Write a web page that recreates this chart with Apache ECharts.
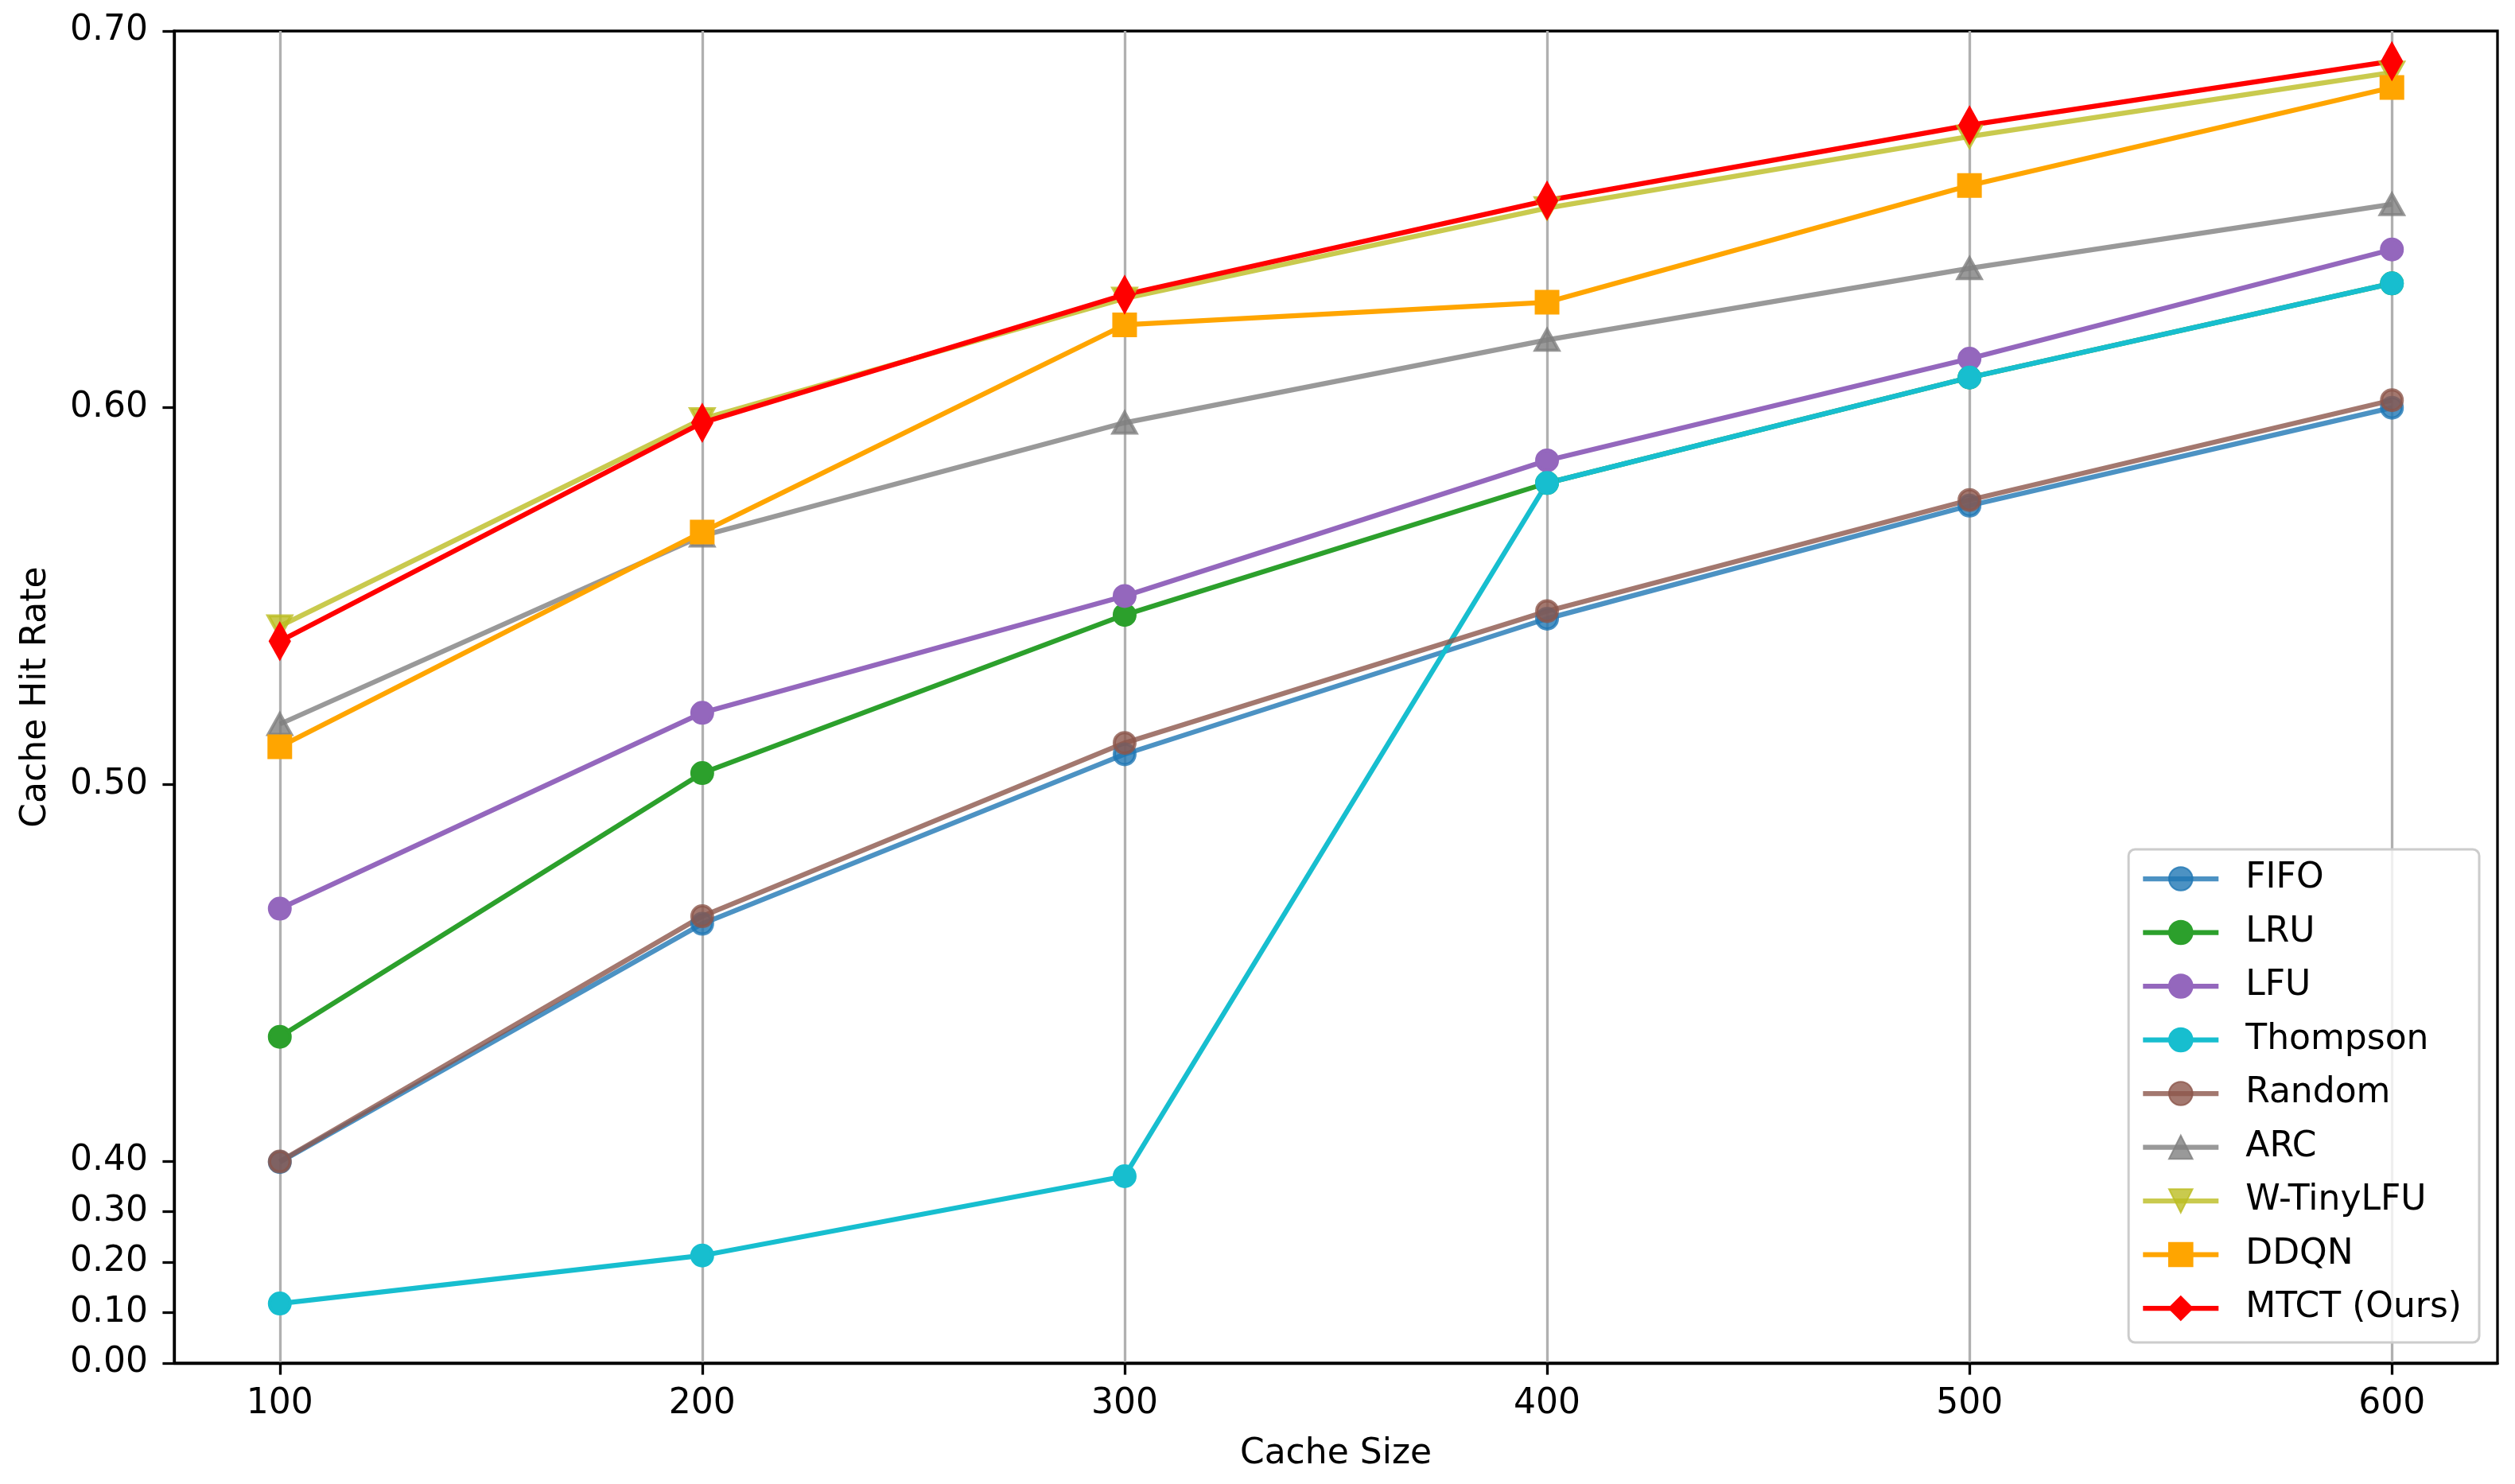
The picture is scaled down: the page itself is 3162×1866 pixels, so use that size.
<!DOCTYPE html>
<html>
<head>
<meta charset="utf-8">
<script src="https://cdn.jsdelivr.net/npm/echarts@6/dist/echarts.min.js"></script>
<style>
html,body{margin:0;padding:0;background:#fff;}
#c{width:3162px;height:1866px;}
</style>
</head>
<body>
<div id="c"></div>
<script>
const cacheSizes = [100, 200, 300, 400, 500, 600];
const xTicks = [100, 200, 300, 400, 500, 600];
const yTicks = [0.0, 0.1, 0.2, 0.3, 0.4, 0.5, 0.6, 0.7];

const fifo      = [0.398, 0.463, 0.508, 0.544, 0.574, 0.600];
const lru       = [0.433, 0.503, 0.545, 0.580, 0.608, 0.633];
const lfu       = [0.467, 0.519, 0.550, 0.586, 0.613, 0.642];
const thompson  = [0.118, 0.213, 0.370, 0.580, 0.608, 0.633];
const randomP   = [0.399, 0.465, 0.511, 0.546, 0.5755, 0.602];
const arc       = [0.516, 0.566, 0.596, 0.618, 0.637, 0.654];
const wtinylfu  = [0.542, 0.597, 0.629, 0.653, 0.672, 0.689];
const ddqn      = [0.510, 0.567, 0.622, 0.628, 0.659, 0.685];
const mtct      = [0.538, 0.596, 0.630, 0.655, 0.675, 0.692];

// broken (piecewise) y scale: below 0.40 the axis is compressed
const BREAK = 0.4;
const LOWER_RATIO = 0.1341;
function warp(v){ return v >= BREAK ? v : BREAK - (BREAK - v) * LOWER_RATIO; }
function unwarp(t){ return t >= BREAK - 1e-9 ? t : BREAK - (BREAK - t) / LOWER_RATIO; }

const FONT = 'DejaVu Sans';
const FS = 44;

function mk(name, vals, color, symbol, size, opacity, rotate){
  return {
    name: name,
    type: 'line',
    data: cacheSizes.map((x, i) => [x, warp(vals[i])]),
    symbol: symbol,
    symbolSize: size,
    symbolRotate: rotate || 0,
    showAllSymbol: true,
    lineStyle: { color: color, width: 6.25, opacity: opacity },
    itemStyle: { color: color, borderColor: color, borderWidth: 4, opacity: opacity },
    emphasis: { disabled: true },
    silent: true
  };
}

const chart = echarts.init(document.getElementById('c'), null, { renderer: 'canvas' });
chart.setOption({
  animation: false,
  backgroundColor: '#ffffff',
  textStyle: { fontFamily: FONT },
  grid: {
    left: 219, right: 22, top: 39, bottom: 152,
    show: true, borderColor: '#000', borderWidth: 3.3,
    outerBoundsMode: 'none'
  },
  xAxis: {
    type: 'value',
    min: 75, max: 625,
    name: 'Cache Size',
    nameLocation: 'middle',
    nameGap: 93,
    nameTextStyle: { fontFamily: FONT, fontSize: FS, color: '#000' },
    axisLine: { show: true, onZero: false, lineStyle: { color: '#000', width: 3.3 } },
    axisTick: { show: true, length: 14.6, lineStyle: { color: '#000', width: 3.3 }, customValues: xTicks },
    axisLabel: { fontFamily: FONT, fontSize: FS, color: '#000', margin: 30, customValues: xTicks,
      formatter: v => String(Math.round(v)) },
    splitLine: { show: true, lineStyle: { color: '#b0b0b0', width: 3.3 } }
  },
  yAxis: {
    type: 'value',
    min: warp(0), max: 0.7,
    name: 'Cache Hit Rate',
    nameLocation: 'middle',
    nameGap: 151,
    nameRotate: 90,
    nameTextStyle: { fontFamily: FONT, fontSize: FS, color: '#000' },
    axisLine: { show: true, onZero: false, lineStyle: { color: '#000', width: 3.3 } },
    axisTick: { show: true, length: 14.6, lineStyle: { color: '#000', width: 3.3 }, customValues: yTicks.map(warp) },
    axisLabel: { fontFamily: FONT, fontSize: FS, color: '#000', margin: 33, customValues: yTicks.map(warp),
      formatter: v => { const r = Math.round(unwarp(v) * 100) / 100; return (Math.abs(r) < 1e-9 ? 0 : r).toFixed(2); } },
    splitLine: { show: false }
  },
  legend: {
    orient: 'vertical',
    right: 45, bottom: 178,
    padding: [15, 22, 21, 15],
    itemGap: 23.5,
    itemWidth: 95,
    itemHeight: 37,
    backgroundColor: 'rgba(255,255,255,0.8)',
    borderColor: '#cccccc',
    borderWidth: 3,
    borderRadius: 8,
    lineStyle: { width: 6.25 },
    textStyle: { fontFamily: FONT, fontSize: FS, color: '#000', lineHeight: 44, padding: [0, 0, 0, 29] },
    data: ['FIFO', 'LRU', 'LFU', 'Thompson', 'Random', 'ARC', 'W-TinyLFU', 'DDQN', 'MTCT (Ours)']
  },
  series: [
    mk('FIFO', fifo, '#1f77b4', 'circle', 26, 0.8),
    mk('LRU', lru, '#2ca02c', 'circle', 26, 1),
    mk('LFU', lfu, '#9467bd', 'circle', 26, 1),
    mk('Thompson', thompson, '#17becf', 'circle', 26, 1),
    mk('Random', randomP, '#8c564b', 'circle', 26, 0.8),
    mk('ARC', arc, '#7f7f7f', 'triangle', [29, 26], 0.8),
    mk('W-TinyLFU', wtinylfu, '#bcbd22', 'triangle', [29, 26], 0.8, 180),
    mk('DDQN', ddqn, '#ffa500', 'rect', 27, 1),
    mk('MTCT (Ours)', mtct, '#ff0000', 'diamond', [24, 43], 1)
  ]
});
</script>
</body>
</html>
